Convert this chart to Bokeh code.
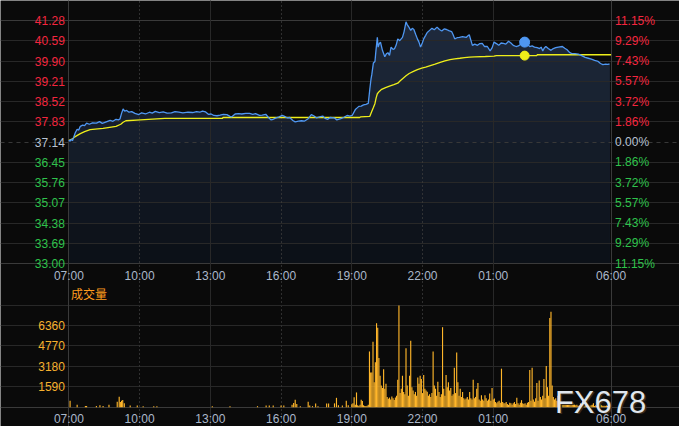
import numpy as np
from bokeh.plotting import figure
from bokeh.models import ColumnDataSource, FixedTicker, Range1d, Grid
from bokeh.core.properties import value
from bokeh.embed import file_html
from bokeh.resources import INLINE

# ---------------- data ----------------
prev_close = 37.14
price_ticks = [33.00, 33.69, 34.38, 35.07, 35.76, 36.45, 37.14, 37.83, 38.52, 39.21, 39.90, 40.59, 41.28]
price_tick_labels = ["33.00", "33.69", "34.38", "35.07", "35.76", "36.45", "37.14",
                     "37.83", "38.52", "39.21", "39.90", "40.59", "41.28"]
pct_tick_labels = ["11.15%", "9.29%", "7.43%", "5.57%", "3.72%", "1.86%", "0.00%",
                   "1.86%", "3.72%", "5.57%", "7.43%", "9.29%", "11.15%"]
x_tick_times = ["07:00", "10:00", "13:00", "16:00", "19:00", "22:00", "01:00", "06:00"]

price_times = [
    "07:00", "07:03", "07:06", "07:09", "07:12", "07:16", "07:21", "07:25", "07:29", "07:35",
    "07:40", "07:45", "07:52", "08:00", "08:10", "08:18", "08:25", "08:35", "08:45", "08:52",
    "09:00", "09:06", "09:10", "09:14", "09:18", "09:22", "09:27", "09:33", "09:40", "09:48",
    "09:58", "10:05", "10:15", "10:25", "10:32", "10:40", "10:50", "11:00", "11:10", "11:21",
    "11:30", "11:40", "11:50", "12:03", "12:15", "12:25", "12:33", "12:40", "12:48", "12:55",
    "13:02", "13:09", "13:17", "13:25", "13:33", "13:42", "13:50", "13:54", "14:03", "14:12",
    "14:20", "14:30", "14:40", "14:48", "14:55", "15:05", "15:12", "15:21", "15:28", "15:34",
    "15:40", "15:46", "15:55", "16:03", "16:09", "16:15", "16:22", "16:30", "16:36", "16:44",
    "16:52", "17:00", "17:09", "17:17", "17:23", "17:30", "17:38", "17:46", "17:52", "17:59",
    "18:05", "18:15", "18:22", "18:32", "18:40", "18:48", "18:55", "19:01", "19:09", "19:13",
    "19:18", "19:24", "19:30", "19:36", "19:42", "19:46", "19:49", "19:51", "19:55", "19:59",
    "20:01", "20:05", "20:07", "20:10", "20:13", "20:18", "20:24", "20:28", "20:32", "20:36",
    "20:40", "20:45", "20:49", "20:53", "20:57", "21:02", "21:09", "21:13", "21:18", "21:21",
    "21:24", "21:30", "21:34", "21:38", "21:43", "21:47", "21:51", "21:55", "21:59", "22:03",
    "22:08", "22:12", "22:18", "22:24", "22:30", "22:37", "22:43", "22:49", "22:55", "23:01",
    "23:07", "23:14", "23:18", "23:22", "23:28", "23:34", "23:42", "23:51", "23:55", "23:59",
    "00:03", "00:07", "00:13", "00:20", "00:26", "00:32", "00:38", "00:45", "00:52", "00:57",
    "01:02", "01:08", "01:14", "01:20", "01:26", "01:32", "01:39", "01:45", "01:51", "01:58",
    "02:04", "02:10", "02:20", "02:27", "02:33", "02:39", "02:45", "02:52", "02:58", "03:02",
    "03:06", "03:10", "03:14", "03:20", "03:27", "03:33", "03:39", "03:46", "03:56", "04:02",
    "04:08", "04:14", "04:20", "04:28", "04:37", "04:45", "04:54", "05:02", "05:10", "05:18",
    "05:27", "05:33", "05:39", "05:46", "05:52", "05:56"]
price_values = [
    37.22, 37.17, 37.24, 37.19, 37.30, 37.45, 37.58, 37.55, 37.68, 37.72,
    37.70, 37.79, 37.75, 37.80, 37.79, 37.84, 37.78, 37.83, 37.88, 37.85,
    37.92, 37.90, 37.93, 38.12, 38.27, 38.20, 38.22, 38.16, 38.18, 38.12,
    38.08, 38.14, 38.10, 38.16, 38.13, 38.19, 38.15, 38.17, 38.13, 38.14,
    38.18, 38.16, 38.14, 38.16, 38.15, 38.18, 38.16, 38.20, 38.17, 38.09,
    38.10, 38.05, 38.04, 38.06, 38.09, 38.08, 38.02, 38.00, 38.10, 38.11,
    38.10, 38.12, 38.12, 38.09, 38.11, 38.05, 38.06, 38.09, 37.98, 37.90,
    37.92, 37.96, 38.00, 38.05, 38.02, 37.97, 37.98, 37.88, 37.83, 37.86,
    37.87, 37.86, 37.94, 38.08, 38.04, 37.97, 38.00, 38.03, 37.95, 37.92,
    37.98, 37.97, 37.90, 37.94, 37.99, 38.05, 38.03, 38.05, 38.25, 38.30,
    38.36, 38.37, 38.41, 38.43, 38.46, 38.96, 39.30, 39.45, 39.84, 39.89,
    40.19, 40.71, 40.38, 40.50, 40.55, 40.27, 40.05, 40.15, 40.19, 40.10,
    40.38, 40.30, 40.33, 40.45, 40.66, 40.60, 40.71, 40.90, 41.24, 41.15,
    41.09, 40.95, 41.02, 40.98, 40.80, 40.66, 40.55, 40.38, 40.50, 40.66,
    40.78, 40.88, 40.95, 41.02, 40.97, 41.06, 40.98, 40.93, 41.00, 40.98,
    40.94, 40.91, 40.80, 40.66, 40.70, 40.71, 40.74, 40.71, 40.76, 40.80,
    40.62, 40.44, 40.48, 40.44, 40.50, 40.51, 40.40, 40.40, 40.25, 40.35,
    40.55, 40.50, 40.44, 40.52, 40.51, 40.48, 40.58, 40.52, 40.44, 40.40,
    40.42, 40.48, 40.55, 40.47, 40.40, 40.42, 40.38, 40.36, 40.33, 40.38,
    40.25, 40.35, 40.40, 40.33, 40.27, 40.33, 40.36, 40.38, 40.40, 40.34,
    40.29, 40.20, 40.16, 40.16, 40.14, 40.09, 40.03, 40.00, 39.97, 39.93,
    39.89, 39.82, 39.78, 39.80, 39.79, 39.81]

avg_times = ["07:00", "07:08", "07:15", "07:29", "07:40", "07:54", "08:27", "09:00", "09:12", "09:18",
             "09:25", "10:02", "11:04", "13:31", "13:32", "19:20", "19:22", "19:46", "19:51", "19:55",
             "19:59", "20:02", "20:05", "20:10", "20:16", "20:26", "20:36", "20:47", "20:57", "21:04",
             "21:10", "21:18", "21:26", "21:37", "21:47", "21:58", "22:08", "22:20", "22:32", "22:45",
             "22:57", "23:10", "23:22", "23:35", "23:47", "00:00", "00:12", "00:40", "01:02", "01:08",
             "02:51", "02:52", "06:00"]
avg_values = [37.20, 37.24, 37.32, 37.43, 37.50, 37.57, 37.61, 37.68, 37.75, 37.82,
              37.87, 37.90, 37.95, 37.95, 37.98, 37.98, 38.00, 38.02, 38.19, 38.32,
              38.46, 38.65, 38.79, 38.87, 38.94, 39.00, 39.05, 39.10, 39.15, 39.24,
              39.31, 39.40, 39.48, 39.55, 39.61, 39.66, 39.70, 39.75, 39.80, 39.86,
              39.91, 39.95, 39.98, 40.00, 40.02, 40.04, 40.05, 40.06, 40.07, 40.09,
              40.09, 40.12, 40.12]

marker_time = "02:20"
marker_price = 40.55
marker_avg = 40.09

vol_quiet_times = ["07:03", "07:21", "07:42", "07:45", "08:10", "08:19", "08:27", "08:42", "09:03", "09:08",
                   "09:11", "09:14", "09:17", "09:21", "09:36", "09:54", "10:09", "10:36", "10:44", "13:05",
                   "13:50", "15:00", "15:22", "15:30", "15:40", "16:00", "16:07", "16:28", "16:32", "16:36",
                   "16:40", "16:49", "17:09", "17:13", "17:20", "17:28", "17:34", "17:56", "18:01", "18:16",
                   "18:21", "18:26", "18:36", "18:46", "18:51"]
vol_quiet = [505, 200, 100, 100, 100, 150, 100, 200, 430, 810,
             400, 500, 560, 300, 130, 130, 80, 80, 80, 80,
             80, 80, 130, 130, 130, 130, 130, 200, 330, 580,
             250, 80, 430, 130, 80, 280, 80, 280, 280, 300,
             730, 150, 130, 500, 150]

vol_active_start = "19:00"
vol_active_step = 3  # minutes per bar
vol_active = [
    230, 300, 780, 200, 1150, 150, 100, 200, 580, 480,
    150, 100, 100, 120, 200, 4340, 2700, 2700, 5100, 1950,
    3500, 6540, 6190, 3840, 2450, 1690, 1500, 2950, 1440, 1820,
    800, 650, 750, 600, 830, 700, 560, 750, 900, 2140,
    7920, 1100, 1440, 2450, 1190, 1000, 4590, 1690, 900, 2450,
    5170, 1560, 1300, 1000, 1190, 900, 2320, 1820, 2450, 2200,
    1100, 2500, 1440, 1310, 1200, 900, 1000, 800, 1100, 4340,
    1690, 1440, 900, 1990, 1190, 800, 1000, 6230, 1440, 900,
    2500, 1560, 1940, 1300, 1500, 900, 1000, 3080, 1100, 4260,
    1940, 900, 1440, 800, 1190, 700, 600, 680, 800, 600,
    1190, 700, 600, 2140, 700, 800, 1440, 1890, 600, 500,
    930, 600, 500, 930, 700, 500, 600, 1060, 500, 1490,
    600, 680, 400, 300, 430, 500, 350, 3000, 400, 300,
    300, 400, 250, 180, 350, 300, 200, 300, 400, 250,
    730, 300, 200, 350, 550, 300, 250, 300, 200, 350,
    400, 2900, 500, 3080, 600, 430, 700, 1890, 500, 2070,
    800, 600, 900, 2200, 700, 3200, 1560, 900, 6940, 7440,
    1690, 800, 600, 700, 500, 900, 600, 500, 400, 300,
    430, 300, 200, 250, 300, 200, 150, 200, 300, 200,
    150, 200, 100, 150, 300, 200, 630, 150, 200, 400,
    200, 150, 100, 150, 200, 300, 100, 150, 100, 120,
    100, 300, 150, 100, 120, 100, 130, 100, 80, 60]
vol_ticks = [1590, 3180, 4770, 6360]
vol_tick_labels = ["1590", "3180", "4770", "6360"]
vol_max = 7950
vol_title = "成交量"
watermark = "FX678"


# ---------------- helpers ----------------
def tmin(s):
    h, m = map(int, s.split(":"))
    t = h * 60 + m - 420
    return t + 1440 if t < 0 else t


SESSION = 1380
W, H = 679, 426
PX_L, PX_R = 68.4, 610.6       # plot-area edges (canvas px)
PY_T, PY_B = 20.2, 263.1       # price panel top / bottom
VY_T, VY_B = 304.6, 406.7      # volume panel top / bottom

BG = "#0a0a0a"
GRID = "#282828"
OUTLINE = "#3a3a3a"
BLUE = "#4f97f2"
YELLOW = "#eeee1a"
RED = "#f4263f"
GREEN = "#2fc24c"
NEUTRAL = "#b7c2d2"
XLAB = "#aab8cb"
ORANGE = "#f6b12e"
BAR = "#ffb62a"
FONT = "Liberation Sans"

xs = SESSION / (PX_R - PX_L)
ys = (price_ticks[-1] - price_ticks[0]) / (PY_B - PY_T)
vs = vol_max / (VY_B - VY_T)

p = figure(width=W, height=H,
           x_range=Range1d(-PX_L * xs, SESSION + (W - PX_R) * xs),
           y_range=Range1d(price_ticks[0] - (H - PY_B) * ys, price_ticks[-1] + PY_T * ys),
           output_backend="svg", toolbar_location=None, min_border=0,
           min_border_left=0, min_border_right=0, min_border_top=0, min_border_bottom=0,
           background_fill_color=BG, border_fill_color=BG, outline_line_color=None)
p.extra_y_ranges = {"vol": Range1d(-(H - VY_B) * vs, vol_max + VY_T * vs)}
p.xaxis.visible = False
p.yaxis.visible = False
p.xgrid.visible = False
p.ygrid.visible = False

px = np.array([tmin(s) for s in price_times], dtype=float)
py = np.array(price_values)
ax_ = np.array([tmin(s) for s in avg_times], dtype=float)
ay = np.array(avg_values)
xt = [tmin(s) for s in x_tick_times]
lo_p, hi_p = price_ticks[0], price_ticks[-1]

# ---------- price panel ----------
# gradient-like fill below the price line (light bands first, darker ones on top)
edges = np.array(price_ticks)
c_lo = np.array([0x0c, 0x10, 0x17])
c_hi = np.array([0x1f, 0x2b, 0x3e])
nb = len(edges) - 1
for j in range(nb - 1, -1, -1):
    f = (j + 0.5) / nb
    c = (c_lo + (c_hi - c_lo) * f).astype(int)
    p.varea(x=px, y1=np.full_like(py, lo_p), y2=np.clip(py, lo_p, edges[j + 1]),
            fill_color="#%02x%02x%02x" % tuple(c), level="image")

mid_i = price_ticks.index(prev_close)
solid_y = [v for k, v in enumerate(price_ticks) if k not in (0, mid_i, len(price_ticks) - 1)]
p.add_layout(Grid(dimension=1, ticker=FixedTicker(ticks=solid_y), bounds=(0, SESSION), grid_line_color=GRID))
p.add_layout(Grid(dimension=1, ticker=FixedTicker(ticks=[prev_close]), bounds=(0, SESSION),
                  grid_line_color="#383838", grid_line_dash="4 4"))
p.add_layout(Grid(dimension=0, ticker=FixedTicker(ticks=[xt[2], xt[4], xt[6]]), bounds=(lo_p, hi_p),
                  grid_line_color=GRID))
p.add_layout(Grid(dimension=0, ticker=FixedTicker(ticks=[xt[1], xt[3], xt[5]]), bounds=(lo_p, hi_p),
                  grid_line_color="#3c3c3c", grid_line_dash="1 3"))
# panel border
p.add_layout(Grid(dimension=1, ticker=FixedTicker(ticks=[lo_p, hi_p]), bounds=(0, SESSION),
                  grid_line_color=OUTLINE))
p.add_layout(Grid(dimension=0, ticker=FixedTicker(ticks=[0, SESSION]), bounds=(lo_p, hi_p),
                  grid_line_color=OUTLINE))

p.line(ax_, ay, line_color=YELLOW, line_width=1.3)
p.line(px, py, line_color=BLUE, line_width=1.3)
p.scatter([tmin(marker_time)], [marker_price], size=10, color=BLUE)
p.scatter([tmin(marker_time)], [marker_avg], size=9, color=YELLOW)

# coloured price / percent tick labels
lab_colors = [GREEN if v < prev_close else (RED if v > prev_close else NEUTRAL) for v in price_ticks]
lsrc = ColumnDataSource(dict(x=[0] * len(price_ticks), y=price_ticks, t=price_tick_labels, c=lab_colors))
rsrc = ColumnDataSource(dict(x=[SESSION] * len(price_ticks), y=price_ticks, t=pct_tick_labels, c=lab_colors))
p.text(x="x", y="y", text="t", text_color="c", source=lsrc, x_offset=-4, text_align="right",
       text_baseline="middle", text_font_size="12px", text_font=value(FONT))
p.text(x="x", y="y", text="t", text_color="c", source=rsrc, x_offset=4, text_align="left",
       text_baseline="middle", text_font_size="12px", text_font=value(FONT))
# time labels under the price panel
p.text(x=xt, y=[lo_p] * len(xt), text=x_tick_times, text_color=XLAB, y_offset=12,
       text_align="center", text_baseline="middle", text_font_size="12px", text_font=value(FONT))

# ---------- volume panel ----------
x_full = (-PX_L * xs, SESSION + (W - PX_R) * xs)
p.add_layout(Grid(dimension=1, ticker=FixedTicker(ticks=vol_ticks), bounds=(0, SESSION),
                  grid_line_color=GRID, y_range_name="vol"))
p.add_layout(Grid(dimension=0, ticker=FixedTicker(ticks=[xt[2], xt[4], xt[6]]), bounds=(0, vol_max),
                  grid_line_color=GRID, y_range_name="vol"))
p.add_layout(Grid(dimension=0, ticker=FixedTicker(ticks=[xt[1], xt[3], xt[5]]), bounds=(0, vol_max),
                  grid_line_color="#3c3c3c", grid_line_dash="1 3", y_range_name="vol"))
p.add_layout(Grid(dimension=1, ticker=FixedTicker(ticks=[vol_max]), bounds=(0, x_full[1]),
                  grid_line_color=GRID, y_range_name="vol"))
p.add_layout(Grid(dimension=1, ticker=FixedTicker(ticks=[0]), bounds=x_full,
                  grid_line_color=OUTLINE, y_range_name="vol"))
p.add_layout(Grid(dimension=0, ticker=FixedTicker(ticks=[0, SESSION]), bounds=(0, vol_max + 20 * vs),
                  grid_line_color=OUTLINE, y_range_name="vol"))

vq_x = [tmin(s) for s in vol_quiet_times]
va_x = [tmin(vol_active_start) + vol_active_step * i for i in range(len(vol_active))]
p.vbar(x=vq_x + va_x, top=vol_quiet + vol_active, bottom=0, width=2.9, fill_color=BAR,
       line_color=None, y_range_name="vol")

p.text(x=[0] * len(vol_ticks), y=vol_ticks, text=vol_tick_labels, text_color=ORANGE, x_offset=-4,
       text_align="right", text_baseline="middle", text_font_size="12px", text_font=value(FONT),
       y_range_name="vol")
p.text(x=xt, y=[0] * len(xt), text=x_tick_times, text_color=XLAB, y_offset=12,
       text_align="center", text_baseline="middle", text_font_size="12px", text_font=value(FONT),
       y_range_name="vol")
p.text(x=[0], y=[vol_max], text=[vol_title], text_color="#ff9d1e", x_offset=2, y_offset=-3,
       text_align="left", text_baseline="bottom", text_font_size="12px",
       text_font=value("Noto Sans CJK SC"), y_range_name="vol")

# watermark
wm_x = tmin("03:37")
p.text(x=[wm_x], y=[5 * vs], text=[watermark], text_color="#3a2a1a", x_offset=1.5, y_offset=1.5,
       text_align="left", text_baseline="alphabetic", text_font_size="31px", text_font=value(FONT),
       y_range_name="vol")
p.text(x=[wm_x], y=[5 * vs], text=[watermark], text_color="#dfe6ee",
       text_align="left", text_baseline="alphabetic", text_font_size="31px", text_font=value(FONT),
       y_range_name="vol")

open("out.html", "w").write(file_html(p, INLINE))
